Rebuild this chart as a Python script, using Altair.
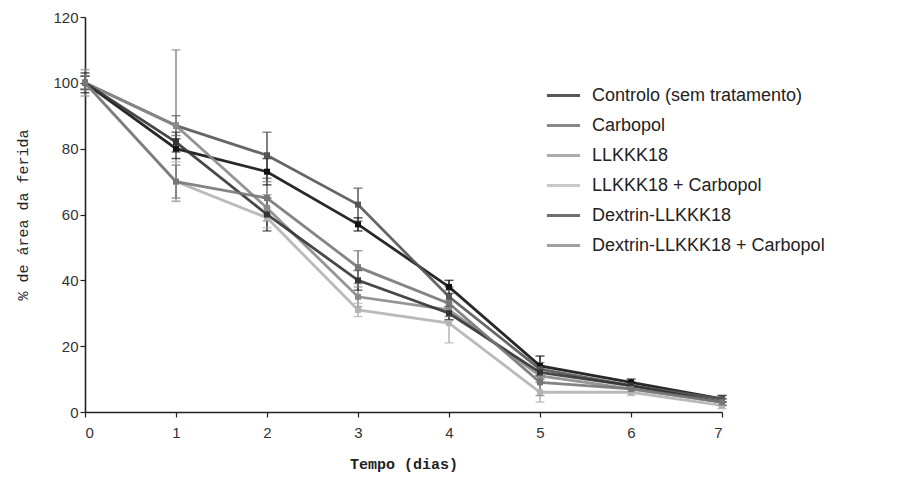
import altair as alt
import pandas as pd

days = [0, 1, 2, 3, 4, 5, 6, 7]
series = ["Controlo (sem tratamento)", "Carbopol", "LLKKK18",
          "LLKKK18 + Carbopol", "Dextrin-LLKKK18", "Dextrin-LLKKK18 + Carbopol"]

controlo = [100, 80, 73, 57, 38, 14, 9, 4]
carbopol = [100, 87, 78, 63, 35, 13, 8, 4]
llkkk18 = [100, 87, 62, 35, 31, 11, 7, 3]
llkkk18_carb = [100, 70, 59, 31, 27, 6, 6, 2]
dextrin = [100, 82, 60, 40, 30, 12, 8, 3]
dextrin_carb = [100, 70, 65, 44, 33, 9, 7, 3]

sd_controlo = [3, 3, 4, 2, 2, 3, 1, 1]
sd_carbopol = [2, 3, 7, 5, 3, 2, 1, 1]
sd_llkkk18 = [4, 23, 4, 3, 3, 2, 1, 1]
sd_llkkk18_carb = [2, 6, 3, 2, 6, 3, 1, 1]
sd_dextrin = [2, 3, 5, 3, 2, 2, 1, 1]
sd_dextrin_carb = [2, 5, 5, 5, 4, 4, 1, 1]

colors = ["#111111", "#555555", "#8a8a8a", "#b3b3b3", "#333333", "#777777"]

values = [controlo, carbopol, llkkk18, llkkk18_carb, dextrin, dextrin_carb]
sds = [sd_controlo, sd_carbopol, sd_llkkk18, sd_llkkk18_carb, sd_dextrin, sd_dextrin_carb]

rows = []
for name, vals, sd in zip(series, values, sds):
    for d, v, s in zip(days, vals, sd):
        rows.append({"Tempo": d, "Valor": v, "lo": v - s, "hi": v + s, "Grupo": name})
df = pd.DataFrame(rows)

x = alt.X("Tempo:Q", title="Tempo (dias)",
          scale=alt.Scale(domain=[0, 7], nice=False),
          axis=alt.Axis(values=days, format="d", labelPadding=8, titlePadding=16,
                        titleFontWeight="bold"))
y = alt.Y("Valor:Q", title="% de área da ferida",
          scale=alt.Scale(domain=[0, 120], nice=False),
          axis=alt.Axis(values=[0, 20, 40, 60, 80, 100, 120], titlePadding=22,
                        titleFontWeight="normal"))
legend = alt.Legend(title=None, orient="none", legendX=460, legendY=60,
                    symbolType="stroke", symbolSize=1100,
                    symbolStrokeWidth=3, rowPadding=2,
                    labelFont="Liberation Sans", labelFontSize=18,
                    labelColor="#222222", labelOffset=10, labelLimit=400)
color = alt.Color("Grupo:N", sort=series,
                  scale=alt.Scale(domain=series, range=colors),
                  legend=legend)

base = alt.Chart(df)

lines = base.mark_line(strokeWidth=2.8, opacity=0.9).encode(
    x=x, y=y, color=color, order=alt.Order("Tempo:Q"))
points = base.mark_square(size=36, opacity=1).encode(
    x="Tempo:Q", y="Valor:Q", color=color)
rules = base.mark_rule(strokeWidth=1.5).encode(
    x="Tempo:Q", y="lo:Q", y2="hi:Q", color=color)
caps_hi = base.mark_tick(orient="horizontal", size=9, thickness=1.5).encode(
    x="Tempo:Q", y="hi:Q", color=color)
caps_lo = base.mark_tick(orient="horizontal", size=9, thickness=1.5).encode(
    x="Tempo:Q", y="lo:Q", color=color)

chart = alt.layer(rules, caps_hi, caps_lo, lines, points).properties(
    width=637, height=395,
    autosize=alt.AutoSizeParams(type="none"),
    padding={"left": 77, "top": 9, "right": 169, "bottom": 60},
).configure_view(stroke=None).configure_axis(
    grid=False, domainColor="#222222", domainWidth=1.6, tickColor="#222222",
    tickSize=5, tickWidth=1.2, labelFont="Liberation Sans", labelFontSize=15,
    labelColor="#333333", titleFont="Liberation Mono", titleFontSize=15,
    titleColor="#222222",
)

chart.save("out.html", embed_options={"renderer": "svg", "actions": False})
